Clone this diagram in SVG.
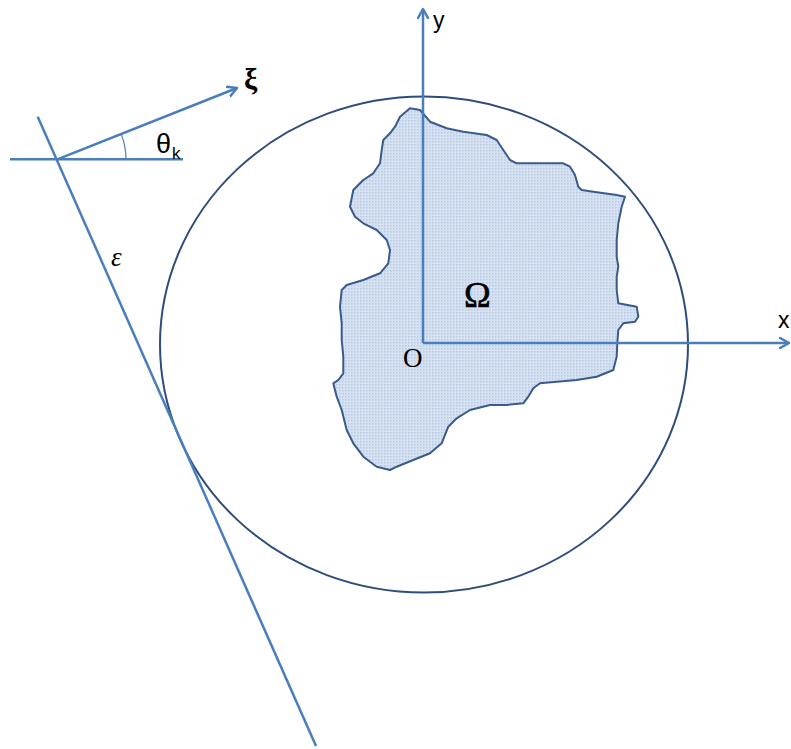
<svg xmlns="http://www.w3.org/2000/svg" width="791" height="749" viewBox="0 0 791 749">
<style>
.ax{stroke:#4a7ebb;stroke-width:2.5;fill:none}
.thin{stroke:#4a7ebb;stroke-width:1.2;fill:none}
.lbl{font-family:"Liberation Sans",Arial,sans-serif;fill:#000}
.ser{font-family:"Liberation Serif","Times New Roman",serif;fill:#000}
</style>
<defs>
<marker id="arr" viewBox="0 0 12 12" refX="10" refY="6" markerWidth="12" markerHeight="12" markerUnits="userSpaceOnUse" orient="auto">
<path d="M1,1 L10,6 L1,11" fill="none" stroke="#4a7ebb" stroke-width="2.5" stroke-linecap="round" stroke-linejoin="round"/>
</marker>
<pattern id="dots" width="3" height="3" patternUnits="userSpaceOnUse">
<rect width="3" height="3" fill="#d6e2f2"/>
<rect width="1.5" height="1.5" fill="#b9cbe4"/>
</pattern>
</defs>
<g id="circle">
<ellipse cx="424" cy="344.5" rx="264" ry="248" fill="none" stroke="#2e4d7b" stroke-width="2"/>
</g>
<g id="omega">
<path d="M410,108.3 L420,110 L430,121.7 L446.7,128.3 L463.3,131.7 L486.7,135 L496.7,140 L503.3,150 L510,160 L516.7,163.3 L536.7,163.3 L563.3,163.3 L570,166.7 L575,175 L578.3,186.7 L581.7,190 L593.3,191.7 L616.7,195 L625,196.7 L621.7,206.7 L618.3,223.3 L616.7,240 L616.7,256.7 L618.3,266.7 L616.7,276.7 L616.7,290 L618.3,303.3 L636.7,306.7 L638.3,316.7 L635,321.7 L623.3,323.3 L618.3,330 L617.3,343.3 L616.7,356.7 L613.3,370 L596.7,376.7 L576.7,380 L556.7,381.7 L540,383.3 L533.3,388.3 L528.3,396.7 L523.3,403.3 L506.7,405 L490,405 L470,410 L456.7,418.3 L448.3,426.7 L441.7,443.3 L430,453.3 L413.3,460 L396.7,466.7 L390,470 L376.7,466.7 L363.3,456.7 L353.3,443.3 L346.7,430 L341.7,410 L336.7,396.7 L333.3,383.3 L338.3,380 L343.3,373.3 L343.3,356.7 L341.7,340 L341.7,323.3 L340,306.7 L341.7,290 L346.7,285 L363.3,280 L380,273.3 L388.3,263.3 L390,250 L386.7,240 L376.7,230 L363.3,223.3 L355,216.7 L350,206.7 L353.3,190 L363.3,180 L373.3,173.3 L380,163.3 L381.7,150 L383.3,140 L390,133.3 L395,126.7 L400,116.7 Z" fill="url(#dots)" stroke="#3a5a8c" stroke-width="2" stroke-linejoin="round"/>
<text class="ser" x="464" y="307" font-size="36" stroke="#000" stroke-width="0.6">Ω</text>
</g>
<g id="connectors">
<line class="ax" x1="423" y1="343" x2="423" y2="9" marker-end="url(#arr)"/>
<line class="ax" x1="423" y1="343" x2="789" y2="343" marker-end="url(#arr)"/>
<line class="ax" x1="10" y1="159.3" x2="183" y2="159.3"/>
<line class="ax" x1="57.3" y1="159.3" x2="237" y2="88" marker-end="url(#arr)"/>
<line class="ax" x1="37.7" y1="116.7" x2="316" y2="746"/>
<path class="thin" d="M121.1,133.9 A68.7,68.7 0 0 1 126,159.3"/>
</g>
<g id="labels">
<text class="lbl" x="433" y="28" font-size="23">y</text>
<text class="lbl" x="778" y="328" font-size="23">x</text>
<text class="ser" x="403" y="367" font-size="27">O</text>
<text class="ser" x="244" y="89" font-size="30" font-weight="bold">ξ</text>
<text class="lbl" x="156" y="153" font-size="27">θ</text>
<text class="lbl" x="172" y="159" font-size="17">k</text>
<text class="ser" x="111" y="266" font-size="27" font-style="italic">ε</text>
</g>
</svg>
